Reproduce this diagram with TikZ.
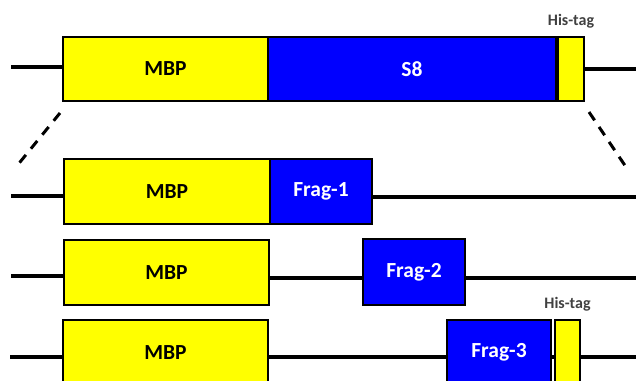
\documentclass[tikz,border=0pt]{standalone}
\usepackage{fontspec}
\setmainfont{Carlito}
\usepackage{xcolor}
\definecolor{mbpyellow}{RGB}{255,255,0}
\definecolor{fragblue}{RGB}{0,0,255}
\definecolor{tagtext}{RGB}{64,64,64}
\usetikzlibrary{positioning}
\tikzset{%
    segbox/.style={%
        draw=black, line width=2pt, inner sep=0pt, outer sep=0pt,
        minimum height=64pt, font=\fontsize{21.5}{24}\selectfont\bfseries
    },
    mbpbox/.style={segbox, fill=mbpyellow, minimum width=205pt},
    fragbox/.style={segbox, fill=fragblue, text=white, minimum width=102pt},
    tagbox/.style={segbox, fill=mbpyellow, minimum width=26pt},
    strand/.style={line width=4pt},
    taglabel/.style={text=tagtext, inner sep=0pt, font=\fontsize{16}{18}\selectfont\bfseries}
}

\begin{document}
\begin{tikzpicture}[x=1pt,y=-1pt]
    \useasboundingbox (0,0) rectangle (636,380);
    \clip (0,0) rectangle (636,380);

    % full construct
    \node[mbpbox, anchor=north west] (mbp1) at (63,37) {MBP};
    \node[fragbox, minimum width=288pt, right=0pt of mbp1] (s8) {S8};
    \node[tagbox, right=2pt of s8] (tag1) {};
    \node[taglabel, above=9pt of tag1] (tag1lbl) {His-tag};
    \coordinate (w1) at (11,67);
    \coordinate (e1) at (636,69);
    \draw[strand] (w1) -- (w1 -| mbp1.west);
    \draw[strand] (e1 -| tag1.east) -- (e1);

	% zoom
    \coordinate (zl1) at (60,113);
    \coordinate (zl2) at (16,167);
    \coordinate (zr1) at (589,112);
    \coordinate (zr2) at (628,170);
    \draw[line width=3pt,dash pattern=on 10pt off 8pt] (zl1) -- (zl2);
    \draw[line width=3pt,dash pattern=on 10pt off 8pt] (zr1) -- (zr2);

    % fragment 1
    \node[mbpbox, minimum width=206pt, minimum height=65pt, anchor=north west] (mbp2) at (64,159) {MBP};
    \node[fragbox, minimum height=65pt, right=0pt of mbp2] (frag1) {Frag-1};
    \coordinate (w2) at (11,196);
    \coordinate (e2) at (636,197);
    \draw[strand] (w2) -- (w2 -| mbp2.west);
    \draw[strand] (e2 -| frag1.east) -- (e2);

    % fragment 2
    \node[mbpbox, minimum height=65pt, anchor=north west] (mbp3) at (64,240) {MBP};
    \node[fragbox, minimum height=66pt, anchor=north west] (frag2) at (363,239) {Frag-2};
    \coordinate (w3) at (11,276);
    \coordinate (e3) at (636,278);
    \draw[strand] (w3) -- (w3 -| mbp3.west);
    \draw[strand] (e3 -| mbp3.east) -- (e3 -| frag2.west);
    \draw[strand] (e3 -| frag2.east) -- (e3);

    % fragment 3
    \node[mbpbox, minimum height=65pt, anchor=north west] (mbp4) at (63,320) {MBP};
    \node[fragbox, minimum width=104pt, minimum height=65pt, anchor=north west] (frag3) at (447,320) {Frag-3};
    \node[tagbox, minimum width=25pt, minimum height=65pt, anchor=north west] (tag3) at (555,320) {};
    \node[taglabel, above=9pt of tag3] (tag3lbl) {His-tag};
    \coordinate (w4) at (10,357);
    \coordinate (e4) at (636,357);
    \draw[strand] (w4) -- (w4 -| mbp4.west);
    \draw[strand] (e4 -| mbp4.east) -- (e4 -| frag3.west);
    \draw[strand] (e4 -| frag3.east) -- (e4 -| tag3.west);
    \draw[strand] (e4 -| tag3.east) -- (e4);
\end{tikzpicture}
\end{document}
